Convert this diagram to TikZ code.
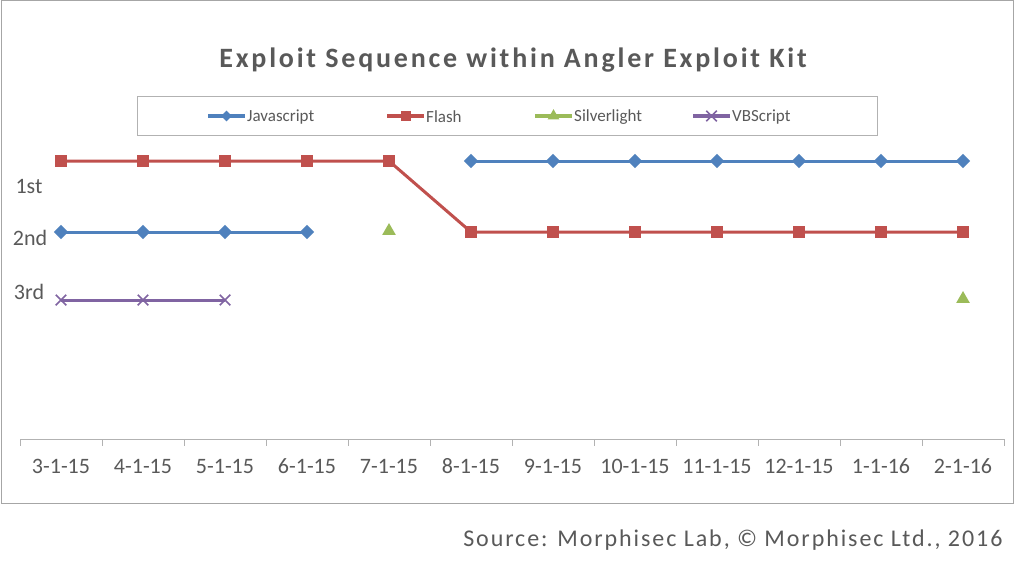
\documentclass[tikz,border=0pt]{standalone}
\usepackage{fontspec}
\setmainfont{Carlito}
\usetikzlibrary{positioning, shapes.geometric, shapes.misc}
\definecolor{jsblue}{HTML}{4F81BD}
\definecolor{flred}{HTML}{C0504D}
\definecolor{slgreen}{HTML}{9BBB59}
\definecolor{vbpurple}{HTML}{8064A2}
\definecolor{txtgray}{HTML}{595959}

\begin{document}
\begin{tikzpicture}[
    x=1pt, y=-1pt,
    every node/.style={font=\fontsize{17}{20}\selectfont, text=txtgray},
    axislabel/.style={font=\fontsize{22}{26}\selectfont},
    series/.style={line width=3pt},
    jsmark/.style={diamond, aspect=1, fill=jsblue, inner sep=3.6pt},
    flmark/.style={rectangle, fill=flred, minimum size=12pt, inner sep=0pt},
    slmark/.style={regular polygon, regular polygon sides=3, fill=slgreen, inner sep=2.8pt},
    vbmark/.style={cross out, draw=vbpurple, line width=1.5pt, minimum size=9pt, inner sep=0pt}
]
\useasboundingbox (0,0) rectangle (1024,567);
\draw[draw=gray!70, line width=1pt, fill=white] (1,1) rectangle (1013,503);
\node[font=\bfseries\fontsize{28}{32}\selectfont, text=txtgray] (title) at (513,60) {\addfontfeature{LetterSpace=10}Exploit Sequence within Angler Exploit Kit};
% legend
\draw[draw=gray!60, line width=1pt] (137,97) rectangle (877,135);
\draw[series, jsblue] (208,116) -- (245,116) node[jsmark, pos=0.5, inner sep=3pt] (ljs) {};
\node[right, inner sep=2pt] (tjs) at (245,117) {Javascript};
\draw[series, flred] (387,116) -- (424,116) node[flmark, pos=0.5, minimum size=10pt] (lfl) {};
\node[right, inner sep=2pt] (tfl) at (424,117) {Flash};
\draw[series, slgreen] (535,116) -- (572,116) node[slmark, pos=0.5, inner sep=2.4pt] (lsl) {};
\node[right, inner sep=2pt] (tsl) at (572,117) {Silverlight};
\draw[series, vbpurple] (693,116) -- (730,116) node[vbmark, pos=0.5] (lvb) {};
\node[right, inner sep=2pt] (tvb) at (730,117) {VBScript};
% axis
\draw[draw=gray!60, line width=1pt] (20,439) -- (1004,439);
\foreach \i/\d in {0/3-1-15,1/4-1-15,2/5-1-15,3/6-1-15,4/7-1-15,5/8-1-15,6/9-1-15,7/10-1-15,8/11-1-15,9/12-1-15,10/1-1-16,11/2-1-16} {
  \draw[draw=gray!60, line width=1pt] (20+82*\i,439) -- (20+82*\i,446);
  \node[axislabel] (d\i) at (61+82*\i,466) {\d};
}
\draw[draw=gray!60, line width=1pt] (1004,439) -- (1004,446);
\node[axislabel] (r1) at (29,187) {1st};
\node[axislabel] (r2) at (30,238) {2nd};
\node[axislabel] (r3) at (29,292) {3rd};
% series
\foreach \i in {0,...,3} \coordinate (js\i) at (61+82*\i,232);
\foreach \i in {5,...,11} \coordinate (js\i) at (61+82*\i,161);
\foreach \i in {0,...,4} \coordinate (fl\i) at (61+82*\i,161);
\foreach \i in {5,...,11} \coordinate (fl\i) at (61+82*\i,232);
\foreach \i in {0,...,2} \coordinate (vb\i) at (61+82*\i,300);
\draw[series, jsblue] (js0) -- (js3);
\draw[series, jsblue] (js5) -- (js11);
\draw[series, flred] (fl0) -- (fl4) -- (fl5) -- (fl11);
\draw[series, vbpurple] (vb0) -- (vb2);
\foreach \i in {0,1,2,3,5,6,7,8,9,10,11} \node[jsmark] (mjs\i) at (js\i) {};
\foreach \i in {0,...,11} \node[flmark] (mfl\i) at (fl\i) {};
\foreach \i in {0,...,2} \node[vbmark] (mvb\i) at (vb\i) {};
\node[slmark] (sl4) at (389,231) {};
\node[slmark] (sl11) at (963,299) {};
% source
\node[anchor=east, font=\fontsize{24}{28}\selectfont] (src) at (1006,540) {\addfontfeature{LetterSpace=8}Source: Morphisec Lab, © Morphisec Ltd., 2016};
\end{tikzpicture}
\end{document}
